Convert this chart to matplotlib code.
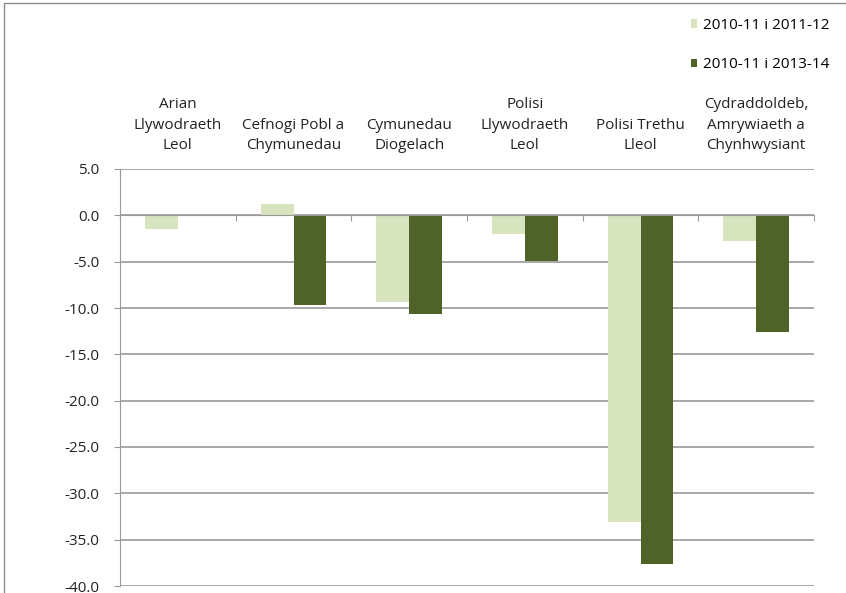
import numpy as np
import matplotlib.pyplot as plt
from matplotlib.patches import Rectangle

categories = ["Arian\nLlywodraeth\nLeol", "Cefnogi Pobl a\nChymunedau", "Cymunedau\nDiogelach",
              "Polisi\nLlywodraeth\nLeol", "Polisi Trethu\nLleol", "Cydraddoldeb,\nAmrywiaeth a\nChynhwysiant"]
series_labels = ["2010-11 i 2011-12", "2010-11 i 2013-14"]
change_2012 = [-1.5, 1.2, -9.4, -2.0, -33.1, -2.8]
change_2014 = [0.0, -9.7, -10.6, -4.9, -37.6, -12.6]
yticks = [5.0, 0.0, -5.0, -10.0, -15.0, -20.0, -25.0, -30.0, -35.0, -40.0]

plt.rcParams['font.family'] = ['Open Sans', 'DejaVu Sans']
W, H = 846, 593
fig = plt.figure(figsize=(W / 100, H / 100), dpi=100)
ax = fig.add_axes([120 / W, 1 - 586 / H, (814 - 120) / W, (586 - 169) / H])

x = np.arange(len(categories)) + 0.5
bw = 0.285
ax.bar(x - bw / 2, change_2012, bw, color='#d7e4bd', label=series_labels[0], zorder=3)
ax.bar(x + bw / 2, change_2014, bw, color='#4f6228', label=series_labels[1], zorder=3)

ax.set_xlim(0, len(categories))
ax.set_ylim(-40, 5)
ax.set_yticks(yticks)
ax.set_yticklabels([f"{v:.1f}" for v in yticks], fontsize=11, color='#222222')
ax.yaxis.grid(True, color='#9a9a9a', linewidth=1.2, zorder=0)
ax.set_axisbelow(True)

ax.set_xticks(np.arange(len(categories) + 1))
ax.set_xticklabels([])
ax.spines['bottom'].set_position(('data', 0))
ax.spines['bottom'].set_color('#9a9a9a')
ax.spines['bottom'].set_zorder(4)
ax.spines['left'].set_color('#9a9a9a')
ax.spines['top'].set_visible(False)
ax.spines['right'].set_visible(False)
ax.tick_params(axis='x', direction='out', length=4, color='#9a9a9a')
ax.tick_params(axis='y', direction='out', length=4, color='#9a9a9a', pad=11)

for xi, lab in zip(x, categories):
    ax.text(xi, 1.038, lab, transform=ax.get_xaxis_transform(), ha='center', va='bottom',
            fontsize=11, color='#222222', linespacing=1.5)

fig.legend(loc='upper right', bbox_to_anchor=(829 / W, 1 - 18 / H), frameon=False,
           fontsize=11, handlelength=0.45, handleheight=0.45, handletextpad=0.33,
           labelspacing=1.58, borderaxespad=0, borderpad=0)

fig.patches.append(Rectangle((4 / W, -0.1), 1.2, 1 - 3 / H + 0.1, transform=fig.transFigure,
                             fill=False, edgecolor='#8c8c8c', linewidth=1))

plt.savefig('out.png', dpi=100)
